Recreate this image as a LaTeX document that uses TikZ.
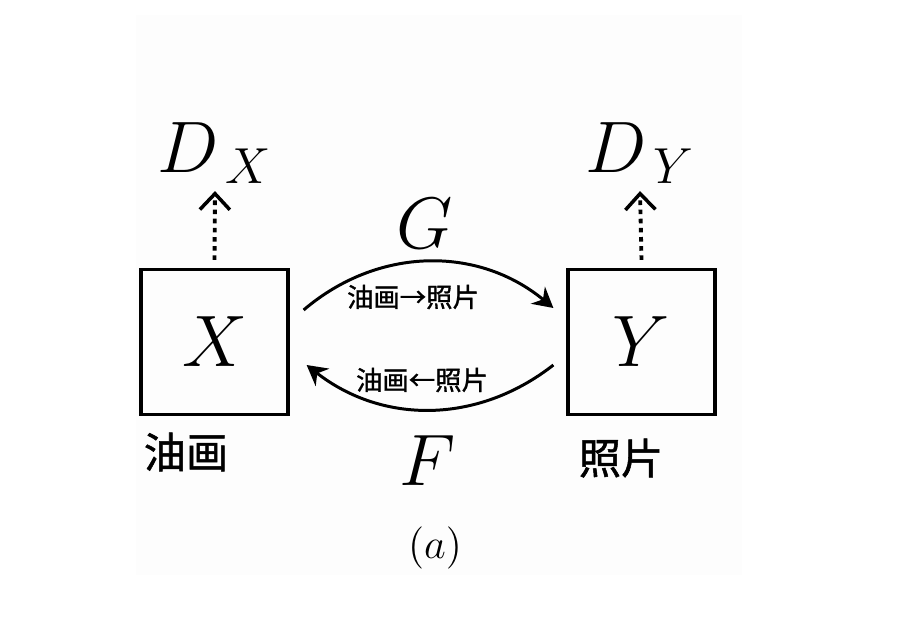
\documentclass[tikz,border=0pt]{standalone}
\usepackage{fontspec}
\newfontfamily\cjk{Noto Sans CJK SC}[FakeBold=1.2]
\usetikzlibrary{arrows.meta}
\tikzset{
  setbox/.style={draw, line width=0.9pt, minimum width=1.47cm, minimum height=1.45cm, inner sep=0},
  mapping/.style={-{Stealth[length=2mm, width=2.2mm]}, line width=0.85pt, bend left=40},
  critic/.style={-{Straight Barb[length=1.6mm, width=3mm, line width=1pt]}, line width=1.1pt, dash pattern=on 1.3pt off 1.3pt},
  big/.style={font=\fontsize{22}{24}\selectfont, inner sep=0},
  cjklabel/.style={font=\cjk\fontsize{12}{14}\selectfont, inner sep=0},
  arclabel/.style={font=\cjk\fontsize{7.5}{9}\selectfont, inner sep=0}
}
\begin{document}
\begin{tikzpicture}[x=0.01cm, y=-0.01cm]
 \useasboundingbox (0,0) rectangle (919,637);
 \fill[black!0.6] (136,15) rectangle (742,575);
 % the two domains
 \node[setbox, big] (X) at (214.5,342) {$X$};
 \node[setbox, big] (Y) at (641.5,342) {$Y$};
 \node[big] (DX) at (215,153) {$D_{\,X}$};
 \node[big] (DY) at (640,153) {$D_{\,Y}$};
 \node[cjklabel] (xname) at (186,452) {油画};
 \node[cjklabel] (yname) at (621,458) {照片};
 % generators
 \draw[mapping] ([xshift=0.14cm, yshift=0.32cm]X.east) to ([xshift=-0.13cm, yshift=0.34cm]Y.west);
 \draw[mapping, bend left=38] ([xshift=-0.13cm, yshift=-0.23cm]Y.west) to ([xshift=0.17cm, yshift=-0.23cm]X.east);
 \node[big] (G) at (425,224) {$G$};
 \node[big] (F) at (428,461) {$F$};
 \node[arclabel] (gname) at (413,297) {油画→照片};
 \node[arclabel] (fname) at (422,380) {油画←照片};
 % discriminators
 \draw[critic] ([yshift=0.08cm]X.north) -- ([yshift=-0.07cm]DX.south);
 \draw[critic] ([yshift=0.08cm]Y.north) -- ([yshift=-0.07cm]DY.south);
 \node[font=\fontsize{12}{14}\selectfont] (cap) at (435,548) {$(a)$};
\end{tikzpicture}
\end{document}
